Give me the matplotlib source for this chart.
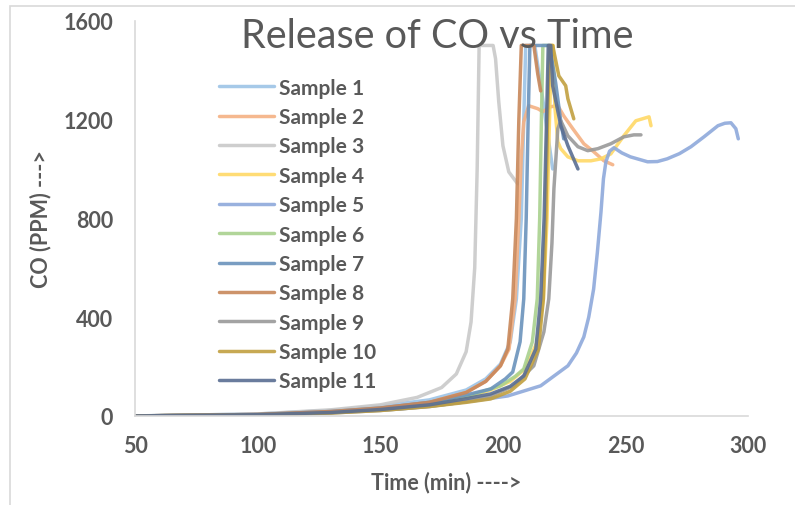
import matplotlib.pyplot as plt
from matplotlib.patches import Rectangle

# Time (min) and CO (PPM) for each sample
s1_t = [50, 100, 130, 150, 170, 185, 193, 199, 203, 205.5, 207.5, 208.5, 209.3, 213, 216, 218.7, 220.3]
s1_co = [0, 8, 22, 40, 65, 105, 150, 210, 300, 474, 800, 1200, 1500, 1500, 1300, 1110, 1000]

s2_t = [50, 100, 130, 150, 170, 185, 193, 199, 202.5, 205, 206.5, 207.5, 208.5, 210.5, 214.2,
        216.3, 219.5, 222.4, 224.8, 228.5, 233, 237, 241.2, 244.8]
s2_co = [0, 6, 18, 32, 55, 95, 140, 203, 271, 474, 800, 1050, 1191, 1256, 1244,
         1232, 1252, 1256, 1215, 1163, 1102, 1070, 1033, 1017]

s3_t = [50, 100, 130, 150, 165, 175, 181, 185, 187, 188.5, 189.5, 190.3, 193, 196, 197, 198.3, 200, 202.4, 206]
s3_co = [0, 8, 25, 45, 75, 115, 170, 260, 380, 600, 1000, 1500, 1500, 1500, 1446, 1272, 1094, 988, 940]

s4_t = [50, 100, 130, 150, 170, 185, 195, 203, 209, 214, 216.5, 218, 219, 219.8, 220.5, 221.2, 222.4,
        223.6, 226.5, 230.6, 235.9, 240, 244, 249.3, 254.2, 259.6, 260.4]
s4_co = [0, 5, 15, 27, 46, 75, 105, 140, 190, 300, 474, 800, 1200, 1500, 1500, 1250, 1110,
         1082, 1049, 1033, 1033, 1041, 1061, 1134, 1195, 1211, 1175]

s5_t = [50, 100, 130, 158, 175, 188, 202, 215.4, 226.5, 230, 233, 235, 237, 238.5, 240, 241, 242,
        243.5, 245.3, 248.5, 252, 259, 263, 267, 272, 276.7, 282, 287.7, 290.5, 293, 295, 296]
s5_co = [0, 5, 14, 28, 45, 61, 81, 122, 203, 255, 320, 400, 514, 660, 826, 960, 1029,
         1072, 1086, 1065, 1049, 1029, 1030, 1041, 1062, 1090, 1130, 1175, 1185, 1187, 1163, 1122]

s6_t = [50, 100, 130, 150, 170, 185, 199, 205, 208.5, 212, 214, 215, 215.7, 216.3, 218.5]
s6_co = [0, 5, 15, 28, 48, 78, 122, 160, 190, 300, 474, 800, 1200, 1500, 1500]

s7_t = [50, 100, 130, 150, 170, 185, 195, 201, 204, 207, 208.5, 209.5, 210.3, 211, 215, 219,
        221.5, 223.5, 224.8]
s7_co = [0, 6, 18, 32, 55, 85, 109, 150, 178, 300, 474, 800, 1200, 1500, 1500, 1500,
         1350, 1200, 1122]

s8_t = [50, 100, 130, 150, 170, 185, 193, 199, 202, 204, 205.5, 206.5, 207.5, 210, 212.6, 214.2, 215.4]
s8_co = [0, 6, 18, 32, 55, 95, 140, 203, 271, 474, 800, 1200, 1500, 1500, 1500, 1385, 1316]

s9_t = [50, 100, 130, 150, 170, 185, 195, 204.4, 212.6, 216.7, 218.7, 220, 220.8, 222.4, 223.6,
        226.5, 230.6, 234.6, 238.7, 244, 249.3, 253.4, 256.3]
s9_co = [0, 4, 12, 22, 38, 58, 81, 122, 203, 340, 474, 700, 920, 1163, 1195,
         1134, 1090, 1074, 1082, 1102, 1130, 1138, 1138]

s10_t = [50, 100, 130, 150, 170, 185, 195, 203, 209, 214.5, 216.5, 217.5, 218.2, 219, 220.3,
         222.8, 225.6, 226.5, 228.9]
s10_co = [0, 4, 12, 22, 38, 55, 69, 100, 150, 271, 474, 800, 1200, 1500, 1500,
          1377, 1337, 1284, 1203]

s11_t = [50, 100, 130, 150, 170, 185, 195, 203, 208.5, 213.4, 215.4, 216.8, 217.8, 218.5, 219.5,
         220.3, 223.6, 226.5, 230.6]
s11_co = [0, 5, 14, 26, 45, 70, 89, 120, 162, 271, 474, 800, 1200, 1500, 1500,
          1337, 1175, 1094, 1000]

names = [f"Sample {i}" for i in range(1, 12)]
times = [s1_t, s2_t, s3_t, s4_t, s5_t, s6_t, s7_t, s8_t, s9_t, s10_t, s11_t]
values = [s1_co, s2_co, s3_co, s4_co, s5_co, s6_co, s7_co, s8_co, s9_co, s10_co, s11_co]
colors = ["#9DC3E6", "#F4B183", "#C9C9C9", "#FFD966", "#8EA9DB", "#A9D18E",
          "#6A93BC", "#C8875A", "#999999", "#C1A040", "#5A6E92"]

plt.rcParams["font.family"] = ["Lato", "DejaVu Sans"]
text_color = "#595959"

fig = plt.figure(figsize=(7.95, 5.06), dpi=100)
ax = fig.add_axes([0.170, 0.176, 0.771, 0.781])

for t, co, name, color in zip(times, values, names, colors):
    ax.plot(t, co, color=color, lw=2.5, alpha=0.9, label=name,
            solid_capstyle="round", solid_joinstyle="round")

ax.set_xlim(50, 300)
ax.set_ylim(0, 1600)
ax.set_xticks(range(50, 301, 50))
ax.set_yticks(range(0, 1601, 400))
ax.tick_params(length=0, labelsize=15.5, colors=text_color)
ax.tick_params(axis="y", pad=16)
ax.tick_params(axis="x", pad=14)
for label in ax.get_xticklabels() + ax.get_yticklabels():
    label.set_fontweight("bold")

for side in ["top", "right"]:
    ax.spines[side].set_visible(False)
for side in ["left", "bottom"]:
    ax.spines[side].set_color("#D9D9D9")
    ax.spines[side].set_linewidth(1.2)

ax.set_xlabel("Time (min) ---->", fontsize=15.5, fontweight="bold", color=text_color)
ax.set_ylabel("CO (PPM) --->", fontsize=15.5, fontweight="bold", color=text_color)
ax.xaxis.set_label_coords(0.507, -0.139)
ax.yaxis.set_label_coords(-0.137, 0.5)

fig.text(0.55, 0.927, "Release of CO vs Time", fontsize=28.5, color=text_color,
         ha="center", va="center")

ax.legend(loc="upper left", bbox_to_anchor=(0.113, 0.893), frameon=False,
          prop={"weight": "bold", "size": 15}, labelcolor=text_color,
          handlelength=2.65, handletextpad=0.25, labelspacing=0.45,
          borderpad=0.2)

fig.patches.append(Rectangle((0.013, -0.01), 1.0, 0.996, transform=fig.transFigure,
                             fill=False, edgecolor="#D9D9D9", lw=1.2))

fig.savefig("out.png", dpi=100)
